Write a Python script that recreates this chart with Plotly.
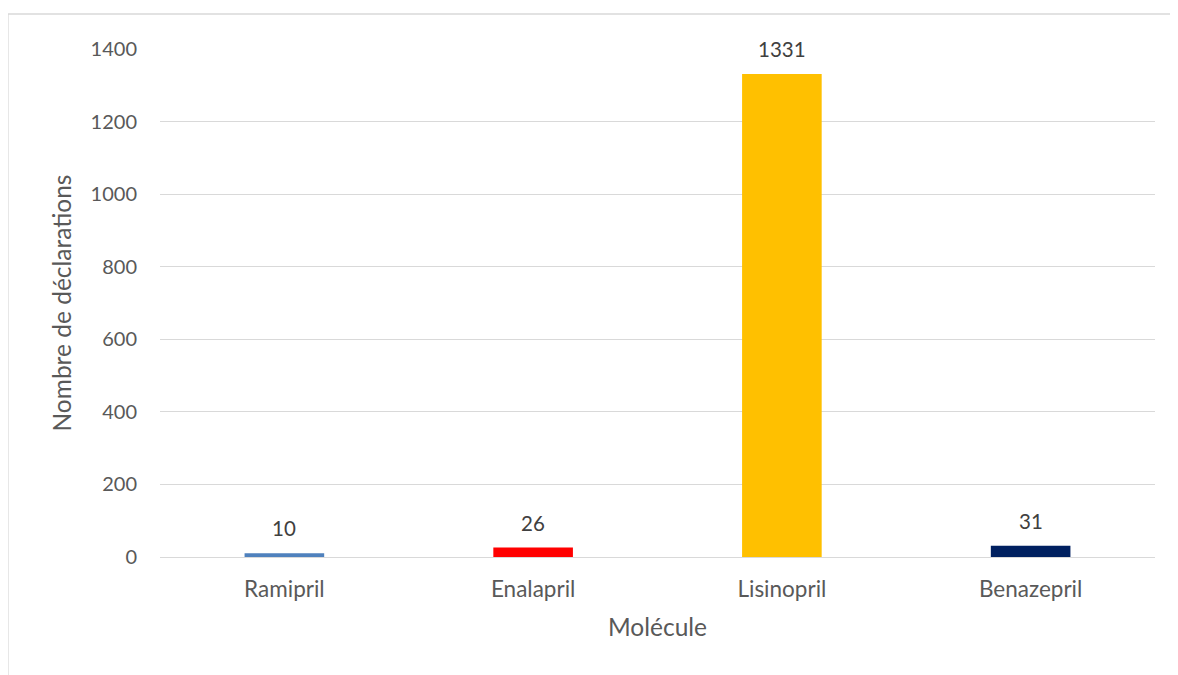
import plotly.graph_objects as go

categories = ["Ramipril", "Enalapril", "Lisinopril", "Benazepril"]
values = [10, 26, 1331, 31]
colors = ["#4F81BD", "#FF0000", "#FFC000", "#002060"]
y_ticks = [0, 200, 400, 600, 800, 1000, 1200, 1400]

FONT = "Lato, Calibri, Carlito, sans-serif"

fig = go.Figure()
fig.add_trace(go.Bar(
    x=categories, y=values,
    marker=dict(color=colors, line=dict(width=0)),
    width=0.32,
    hoverinfo="x+y",
))

for c, v in zip(categories, values):
    fig.add_annotation(x=c, y=v, text=str(v), showarrow=False,
                       yanchor="bottom", yshift=11,
                       font=dict(family=FONT, size=20.5, color="#404040"))

fig.add_shape(type="rect", xref="paper", yref="paper",
              x0=-0.1528, x1=1.2, y0=-0.3, y1=1.0689,
              line=dict(color="#D9D9D9", width=1.3), fillcolor="rgba(0,0,0,0)",
              layer="below")

fig.update_layout(
    width=1170, height=667,
    margin=dict(l=152, r=23, t=41, b=118),
    paper_bgcolor="white", plot_bgcolor="white",
    font=dict(family=FONT, size=20, color="#595959"),
    showlegend=False,
    xaxis=dict(
        title=dict(text="Molécule", font=dict(size=24.5, color="#595959"), standoff=18),
        showgrid=False, showline=False, zeroline=False,
        ticks="", ticklabelstandoff=16,
        tickfont=dict(size=22.5, color="#595959"),
    ),
    yaxis=dict(
        title=dict(text="Nombre de déclarations", font=dict(size=24.5, color="#595959"), standoff=12),
        range=[0, 1400], tickvals=y_ticks,
        showgrid=True, gridcolor="#D9D9D9", gridwidth=1.3,
        zeroline=True, zerolinecolor="#D9D9D9", zerolinewidth=1.3,
        showline=False, ticks="", ticklabelstandoff=22,
        tickfont=dict(size=20, color="#595959"),
    ),
)

fig.write_html("out.html")
